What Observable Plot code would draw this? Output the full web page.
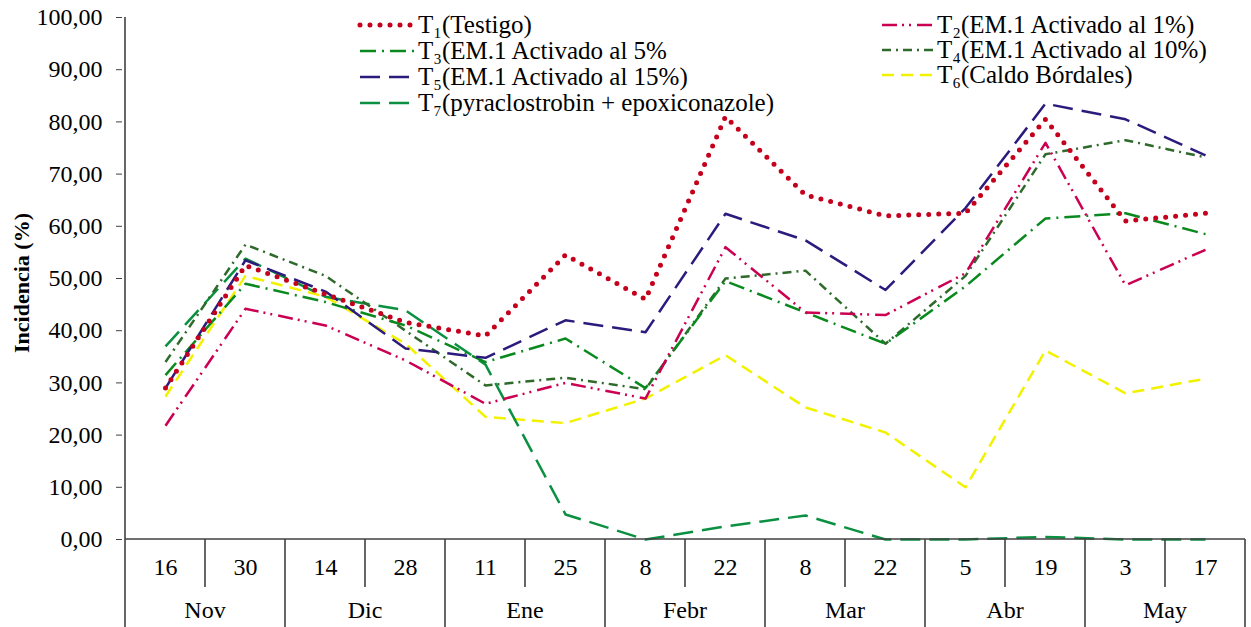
<!DOCTYPE html>
<html><head><meta charset="utf-8">
<script src="https://cdn.jsdelivr.net/npm/d3@7"></script>
<script src="https://cdn.jsdelivr.net/npm/@observablehq/plot@0.6"></script>
<style>
body{margin:0;background:#fff;}
#chart{position:relative;width:1251px;height:627px;overflow:hidden;}
</style></head><body><div id="chart"></div>
<script>
// ---- data ----
const months = ["Nov","Nov","Dic","Dic","Ene","Ene","Febr","Febr","Mar","Mar","Abr","Abr","May","May"];
const days = ["16","30","14","28","11","25","8","22","8","22","5","19","3","17"];
const yTicks = [0,10,20,30,40,50,60,70,80,90,100];
const T1 = [29,52.5,47,41.6,39,54.5,46,81,66,62,62.5,80.5,61,62.5];
const T2 = [21.8,44.2,41,34.3,26,30,27,56,43.5,43,51,76,48.7,55.5];
const T3 = [31.5,49,45.5,41,34,38.5,29,49.5,43.5,37.5,48.5,61.5,62.5,58.5];
const T4 = [34,56.5,50.5,40,29.5,31,28.8,50,51.5,37.5,50.5,73.8,76.5,73.2];
const T5 = [29,53.5,47.5,36.6,34.8,42,39.7,62.4,57.3,47.8,63.5,83.5,80.5,73.6];
const T6 = [27.4,50.5,46.5,37.5,23.5,22.3,27,35.3,25.3,20.5,10,36.2,28,30.8];
const T7 = [37,53.8,46.5,43.9,33.5,4.8,0,2.5,4.6,0,0,0.5,0,0];
const names = ["T₁(Testigo)","T₂(EM.1 Activado al 1%)","T₃(EM.1 Activado al 5%","T₄(EM.1 Activado al 10%)","T₅(EM.1 Activado al 15%)","T₆(Caldo Bórdales)","T₇(pyraclostrobin + epoxiconazole)"];
const yLabel = "Incidencia (%)";

// ---- styles ----
const styles = [
  {color:"#c4001c", dash:"0 10", width:5, cap:"round"},
  {color:"#cc0052", dash:"15 5 2 5 2 6", width:2.5, cap:"butt"},
  {color:"#0a8a1e", dash:"16 6 2 6", width:2.5, cap:"butt"},
  {color:"#2e6a2a", dash:"9 5 2 5", width:2.5, cap:"butt"},
  {color:"#2c1b7c", dash:"20 9", width:2.5, cap:"butt"},
  {color:"#f2f200", dash:"12 7", width:2.5, cap:"butt"},
  {color:"#0a9040", dash:"20 9", width:2.5, cap:"butt"}
];
const seriesVals = [T1,T2,T3,T4,T5,T6,T7];
const keys = days.map((d,i)=>i);
const series = seriesVals.map((vals,si)=>vals.map((v,i)=>({k:i,v,s:names[si]})));

const drawOrder = [5,6,3,2,1,4,0];
const lineMarks = drawOrder.map(si => Plot.line(series[si], {
  x:"k", y:"v", stroke:styles[si].color, strokeWidth:styles[si].width,
  strokeDasharray:styles[si].dash, strokeLinecap:styles[si].cap, strokeLinejoin:"round"
}));

const axisColor = "#404040";
const plot = Plot.plot({
  width:1251, height:627,
  marginLeft:122, marginRight:4, marginTop:17, marginBottom:88,
  style:{fontFamily:"'Liberation Serif','Times New Roman',serif", fontSize:"24px", color:"#000", background:"#fff", overflow:"visible"},
  x:{type:"point", domain:keys, padding:0.5, axis:null},
  y:{domain:[0,100], axis:null},
  marks:[
    Plot.axisY({ticks:yTicks, tickFormat:d=>d.toFixed(2).replace(".",","), tickSize:6, tickPadding:14, label:null, fontSize:24, stroke:axisColor}),
    Plot.axisX({tickSize:0, tickPadding:18, tickFormat:i=>days[i], fontSize:24, label:null}),
    ...lineMarks
  ]
});
document.getElementById("chart").appendChild(plot);

// ---- decorations derived from the scales ----
const svg = d3.select(plot);
const xs = plot.scale("x"), ys = plot.scale("y");
const step = xs.step;
const y0 = ys.apply(0), yTop = ys.apply(100);
const left = xs.apply(keys[0]) - step/2, right = xs.apply(keys[keys.length-1]) + step/2;
const g = svg.append("g").attr("stroke", axisColor).attr("stroke-width", 1.6);
g.append("line").attr("x1",left).attr("x2",left).attr("y1",yTop).attr("y2",627);
g.append("line").attr("x1",left).attr("x2",right).attr("y1",y0).attr("y2",y0);
keys.forEach((k,i)=>{
  if (i===0) return;
  const xb = xs.apply(k) - step/2;
  const monthBoundary = months[i] !== months[i-1];
  g.append("line").attr("x1",xb).attr("x2",xb).attr("y1",y0).attr("y2", monthBoundary ? 627 : y0+48);
});
g.append("line").attr("x1",right).attr("x2",right).attr("y1",y0).attr("y2",627);
const uniq = [...new Set(months)];
uniq.forEach(m=>{
  const idx = keys.filter(i=>months[i]===m);
  const cx = (xs.apply(idx[0]) + xs.apply(idx[idx.length-1]))/2;
  svg.append("text").attr("x",cx).attr("y",y0+79).attr("text-anchor","middle")
    .attr("font-size",24).attr("fill","#000").text(m);
});
svg.append("text").attr("transform",`translate(29,${(y0+yTop)/2+5}) rotate(-90)`)
  .attr("text-anchor","middle").attr("font-weight","bold").attr("font-size",22).attr("fill","#000").text(yLabel);

// legend
const legendPos = [
  {x:360, y:25}, {x:882, y:25},
  {x:360, y:51}, {x:882, y:50},
  {x:360, y:77}, {x:882, y:75},
  {x:360, y:103}
];
const lg = svg.append("g").attr("text-anchor","start");
names.forEach((n,si)=>{
  const p = legendPos[si], st = styles[si];
  const sampleW = si % 2 === 0 ? 55 : 52;
  lg.append("line").attr("x1",p.x).attr("x2",p.x+sampleW).attr("y1",p.y).attr("y2",p.y)
    .attr("stroke",st.color).attr("stroke-width",st.width).attr("stroke-dasharray",st.dash)
    .attr("stroke-linecap",st.cap);
  lg.append("text").attr("x",p.x+sampleW+3).attr("y",p.y+8).attr("text-anchor","start")
    .attr("font-size",25).attr("fill","#000").text(n);
});
</script>
</body></html>
